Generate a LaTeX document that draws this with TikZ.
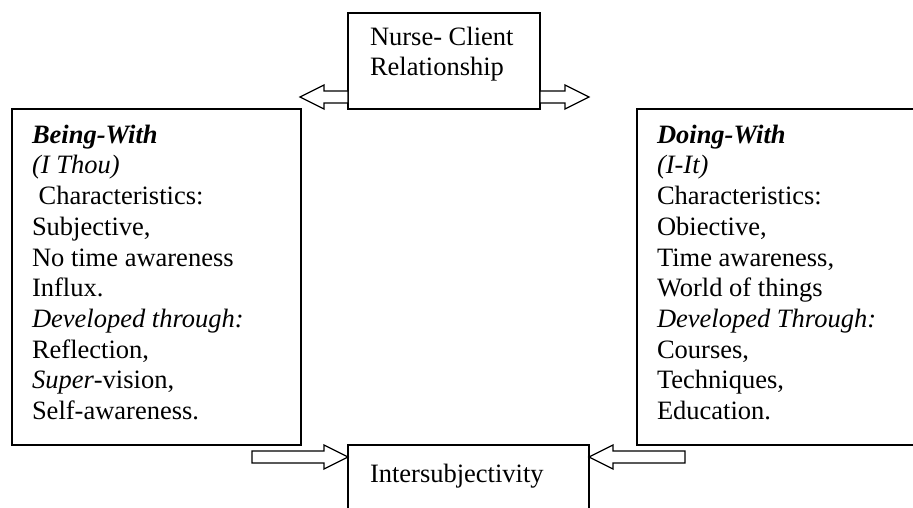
\documentclass[tikz,border=0pt]{standalone}
\usepackage{fontspec}
\setmainfont{Liberation Serif}
\usetikzlibrary{calc,positioning}
\tikzset{
  boxln/.style={draw, line width=1.3pt, outer sep=0pt, inner sep=0pt, anchor=north west},
  arrowln/.style={draw, fill=white, line width=1.3pt, line join=miter},
  boxtxt/.style={inner sep=0pt, outer sep=0pt, align=left, anchor=base west,
    font=\fontsize{26.5}{30.7}\selectfont},
}
% hollow block arrow from tail #1 to tip #2 (horizontal)
\newcommand{\hollowarrow}[2]{%
  \draw[arrowln] let \p1=(#1), \p2=(#2), \n1={sign(\x2-\x1)} in
    (\x1,\y1+6pt) -- ({\x2-\n1*24pt},\y1+6pt) -- ({\x2-\n1*24pt},\y1+12pt)
    -- (\x2,\y2) -- ({\x2-\n1*24pt},\y1-12pt) -- ({\x2-\n1*24pt},\y1-6pt)
    -- (\x1,\y1-6pt) -- cycle;
}

\begin{document}
\begin{tikzpicture}[x=1pt,y=-1pt]
  \clip (0,0) rectangle (913,508);
  % boxes
  \node[boxln, minimum width=192, minimum height=96] (nurse) at (348,13) {};
  \node[boxln, minimum width=289, minimum height=336] (being) at (12,109) {};
  \node[boxln, minimum width=320, minimum height=336] (doing) at (637,109) {};
  \node[boxln, minimum width=241, minimum height=90] (inter) at (348,445) {};
  % texts (base anchor sits on the last line)
  \node[boxtxt] (nursetxt) at (370,76) {Nurse- Client\\Relationship};
  \node[boxtxt] (beingtxt) at (32,419.5) {\textbf{\textit{Being-With}}\\
    \textit{(I Thou)}\\
    \ Characteristics:\\
    Subjective,\\
    No time awareness\\
    Influx.\\
    \textit{Developed through:}\\
    Reflection,\\
    \textit{Super}-vision,\\
    Self-awareness.};
  \node[boxtxt] (doingtxt) at (657,419.5) {\textbf{\textit{Doing-With}}\\
    \textit{(I-It)}\\
    Characteristics:\\
    Obiective,\\
    Time awareness,\\
    World of things\\
    \textit{Developed Through:}\\
    Courses,\\
    Techniques,\\
    Education.};
  \node[boxtxt] (intertxt) at (370,482) {Intersubjectivity};
  % arrows
  \coordinate (tltip) at (300,97);
  \coordinate (trtip) at (589,97);
  \coordinate (bltail) at (252,457);
  \coordinate (brtail) at (685,457);
  \hollowarrow{$(nurse.south west)+(0,-12)$}{tltip}
  \hollowarrow{$(nurse.south east)+(0,-12)$}{trtip}
  \hollowarrow{bltail}{$(inter.north west)+(0,12)$}
  \hollowarrow{brtail}{$(inter.north east)+(0,12)$}
\end{tikzpicture}
\end{document}
